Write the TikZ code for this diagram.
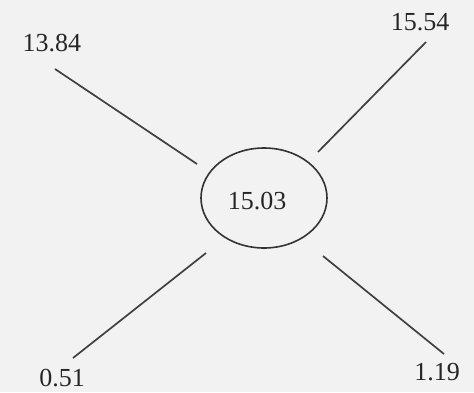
\documentclass[tikz,border=0pt]{standalone}
\usepackage{fontspec}
\setmainfont{Liberation Serif}
\usetikzlibrary{shapes.geometric}

\begin{document}
\begin{tikzpicture}[x=1pt,y=-1pt,
  val/.style={font=\fontsize{26}{28}\selectfont, text=black!85, inner sep=0pt},
  spoke/.style={black!75, line width=1.7pt}]
\fill[black!5] (0,0) rectangle (474,392);
% centre value
\node[ellipse, draw=black!80, line width=1.6pt, minimum width=126pt, minimum height=100pt] (mid) at (264,198) {};
\node[val] (c) at (257,201) {15.03};
% corner values
\node[val] (tl) at (52,43) {13.84};
\node[val] (tr) at (420,22) {15.54};
\node[val] (bl) at (62,378) {0.51};
\node[val] (br) at (437,372) {1.19};
% spoke ends
\coordinate (tl1) at (55,69);  \coordinate (tl2) at (197,164);
\coordinate (tr1) at (426,42); \coordinate (tr2) at (318,152);
\coordinate (bl1) at (73,358); \coordinate (bl2) at (206,253);
\coordinate (br1) at (444,354); \coordinate (br2) at (323,256);
\foreach \s in {tl,tr,bl,br}
  \draw[spoke] (\s1) -- (\s2);
\end{tikzpicture}
\end{document}
